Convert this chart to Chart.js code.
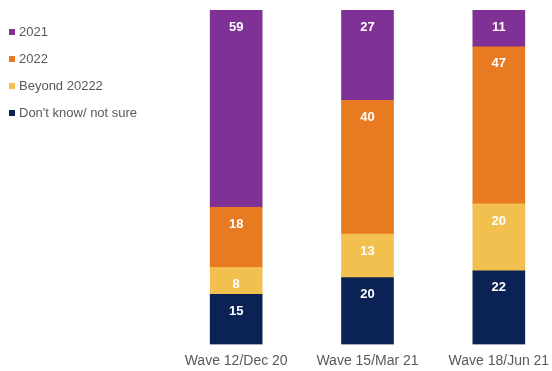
<!DOCTYPE html>
<html>
<head>
<meta charset="utf-8">
<script src="https://cdn.jsdelivr.net/npm/chart.js@4/dist/chart.umd.min.js"></script>
<style>
  html, body { margin: 0; padding: 0; background: #fff; overflow: hidden; }
  #wrap { position: relative; width: 552px; height: 371px; overflow: hidden; }
  #chart { position: absolute; left: 0; top: 0; }
  #legend { position: absolute; left: 9px; top: 0; font-family: "Liberation Sans", Arial, sans-serif; font-size: 13px; color: #595959; }
  .item { position: absolute; left: 0; white-space: nowrap; height: 16px; line-height: 16px; }
  .box { position: absolute; left: 0; top: 5px; width: 6px; height: 6px; }
  .txt { position: absolute; left: 10px; top: 0; }
</style>
</head>
<body>
<div id="wrap">
  <canvas id="chart" width="600" height="380"></canvas>
  <div id="legend"></div>
</div>
<script>
const categories = ["Wave 12/Dec 20", "Wave 15/Mar 21", "Wave 18/Jun 21"];
const seriesNames = ["Don't know/ not sure", "Beyond 20222", "2022", "2021"];
const dontKnow = [15, 20, 22];
const beyond = [8, 13, 20];
const y2022 = [18, 40, 47];
const y2021 = [59, 27, 11];
const seriesColors = ["#0b2354", "#f2c04f", "#e87a22", "#7f3196"];

const seriesValues = [dontKnow, beyond, y2022, y2021];

// White value labels placed a fixed distance below each segment's top edge
const segmentLabels = {
  id: 'segmentLabels',
  afterDatasetsDraw(chart) {
    const ctx = chart.ctx;
    ctx.save();
    ctx.fillStyle = '#ffffff';
    ctx.font = 'bold 13px "Liberation Sans", Arial, sans-serif';
    ctx.textAlign = 'center';
    ctx.textBaseline = 'middle';
    chart.data.datasets.forEach((ds, i) => {
      chart.getDatasetMeta(i).data.forEach((bar, j) => {
        const top = Math.min(bar.y, bar.base);
        ctx.fillText(String(ds.data[j]), bar.x, top + 17);
      });
    });
    ctx.restore();
  }
};

const chart = new Chart(document.getElementById('chart'), {
  type: 'bar',
  data: {
    labels: categories,
    datasets: seriesNames.map((name, i) => ({
      label: name,
      data: seriesValues[i],
      backgroundColor: seriesColors[i],
      borderWidth: 0,
      barThickness: 52
    }))
  },
  options: {
    responsive: false,
    animation: false,
    layout: { padding: { left: 170.5, right: 35.5, top: 10, bottom: 1.6 } },
    plugins: { legend: { display: false }, tooltip: { enabled: false } },
    scales: {
      x: {
        stacked: true,
        grid: { display: false, drawTicks: false },
        border: { display: false },
        ticks: {
          color: '#595959',
          padding: 8.6,
          maxRotation: 0,
          font: { family: '"Liberation Sans", Arial, sans-serif', size: 14 }
        }
      },
      y: {
        stacked: true,
        display: false,
        min: 0,
        max: 100
      }
    }
  },
  plugins: [segmentLabels]
});

// Legend listed top-down in the same order as the stack
const legend = document.getElementById('legend');
const order = [3, 2, 1, 0];
order.forEach((idx, row) => {
  const item = document.createElement('div');
  item.className = 'item';
  item.style.top = (24 + row * 27) + 'px';
  const box = document.createElement('span');
  box.className = 'box';
  box.style.background = seriesColors[idx];
  const txt = document.createElement('span');
  txt.className = 'txt';
  txt.textContent = seriesNames[idx];
  item.appendChild(box);
  item.appendChild(txt);
  legend.appendChild(item);
});
</script>
</body>
</html>
